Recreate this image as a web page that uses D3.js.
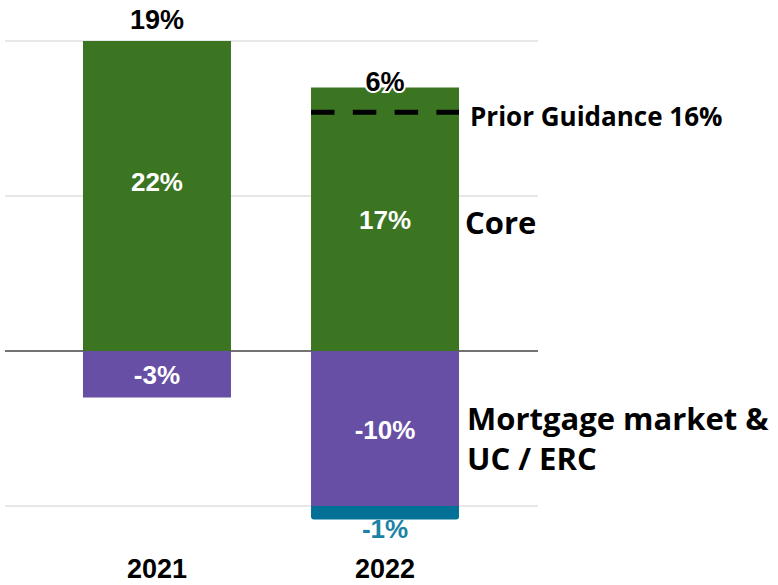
<!DOCTYPE html>
<html>
<head>
<meta charset="utf-8">
<script src="https://cdn.jsdelivr.net/npm/d3@7"></script>
<style>
  body { margin: 0; background: #fff; }
  svg { display: block; }
</style>
</head>
<body>
<svg id="chart"></svg>
<script>
// data
var years = ["2021", "2022"];
var core = [22, 17];
var mortgage = [-3, -10];
var other = [0, -1];
var totals = ["19%", "6%"];
var guidanceLevel = 15.4;
var guidanceLabel = "Prior Guidance 16%";
var gridTicks = [20, 10, 0, -10];

var width = 778, height = 585;

var svg = d3.select("#chart")
  .attr("width", width)
  .attr("height", height);

var x = d3.scaleBand()
  .domain(years)
  .range([5, 537])
  .paddingInner(0.351)
  .paddingOuter(0.342);

// axis top is 20%, taller bars get clipped there
var yMax = 20;
var y = d3.scaleLinear()
  .domain([-12, yMax])
  .range([537, 41])
  .clamp(true);

var green = "#3b7521", purple = "#684fa6", teal = "#037196";

// gridlines
svg.append("g")
  .selectAll("line")
  .data(gridTicks)
  .enter()
  .append("line")
  .attr("x1", 5)
  .attr("x2", 538)
  .attr("y1", function (d) { return y(d); })
  .attr("y2", function (d) { return y(d); })
  .style("stroke", function (d) { return d === 0 ? "#444" : "#d0d0d0"; })
  .style("stroke-width", function (d) { return d === 0 ? 1.5 : 1.2; });

var rows = years.map(function (yr, i) {
  return { year: yr, core: core[i], mortgage: mortgage[i], other: other[i], total: totals[i] };
});

// core bars
svg.append("g")
  .selectAll("rect")
  .data(rows)
  .enter()
  .append("rect")
  .attr("x", function (d) { return x(d.year); })
  .attr("width", x.bandwidth())
  .attr("y", function (d) { return y(d.core); })
  .attr("height", function (d) { return y(0) - y(d.core); })
  .style("fill", green);

// mortgage market bars
svg.append("g")
  .selectAll("rect")
  .data(rows)
  .enter()
  .append("rect")
  .attr("x", function (d) { return x(d.year); })
  .attr("width", x.bandwidth())
  .attr("y", y(0))
  .attr("height", function (d) { return y(d.mortgage) - y(0); })
  .style("fill", purple);

// UC / ERC sliver, rounded at the bottom
svg.append("g")
  .selectAll("path")
  .data(rows.filter(function (d) { return d.other !== 0; }))
  .enter()
  .append("path")
  .attr("d", function (d) {
    var x0 = x(d.year), x1 = x0 + x.bandwidth();
    var y0 = y(d.mortgage), y1 = y(d.mortgage + d.other) - 2, r = 3;
    return "M" + x0 + "," + y0 + "H" + x1 + "V" + (y1 - r) +
      "Q" + x1 + "," + y1 + " " + (x1 - r) + "," + y1 +
      "H" + (x0 + r) + "Q" + x0 + "," + y1 + " " + x0 + "," + (y1 - r) + "Z";
  })
  .style("fill", teal);

// prior guidance dashed line
svg.append("line")
  .attr("x1", x("2022"))
  .attr("x2", x("2022") + x.bandwidth())
  .attr("y1", y(guidanceLevel))
  .attr("y2", y(guidanceLevel))
  .style("stroke", "#000")
  .style("stroke-width", 5)
  .style("stroke-dasharray", "23.5,18.3");

var numFont = "'Liberation Sans', Arial, sans-serif";

// segment labels
var segLabels = [];
rows.forEach(function (d) {
  segLabels.push({ year: d.year, v: d.core, mid: d.core / 2 });
  segLabels.push({ year: d.year, v: d.mortgage, mid: d.mortgage / 2 });
});
svg.append("g")
  .selectAll("text")
  .data(segLabels)
  .enter()
  .append("text")
  .attr("x", function (d) { return x(d.year) + x.bandwidth() / 2; })
  .attr("y", function (d) { return y(d.mid) + 10; })
  .attr("text-anchor", "middle")
  .style("font-family", numFont)
  .style("font-weight", "bold")
  .style("font-size", "26px")
  .style("fill", "#fff")
  .text(function (d) { return d.v + "%"; });

// UC / ERC label below the bar
svg.append("g")
  .selectAll("text")
  .data(rows.filter(function (d) { return d.other !== 0; }))
  .enter()
  .append("text")
  .attr("x", function (d) { return x(d.year) + x.bandwidth() / 2; })
  .attr("y", function (d) { return y(d.mortgage + d.other) + 16; })
  .attr("text-anchor", "middle")
  .style("font-family", numFont)
  .style("font-weight", "bold")
  .style("font-size", "26px")
  .style("fill", "#1a82a6")
  .text(function (d) { return d.other + "%"; });

// totals above the bars
svg.append("g")
  .selectAll("text")
  .data(rows)
  .enter()
  .append("text")
  .attr("x", function (d) { return x(d.year) + x.bandwidth() / 2; })
  .attr("y", function (d) { return d.core > yMax ? y(yMax) - 12 : y(d.core) + 3; })
  .attr("text-anchor", "middle")
  .style("font-family", numFont)
  .style("font-weight", "bold")
  .style("font-size", "27px")
  .style("fill", "#000")
  .style("stroke", "#fff")
  .style("stroke-width", 4)
  .style("paint-order", "stroke")
  .text(function (d) { return d.total; });

// year labels
svg.append("g")
  .selectAll("text")
  .data(years)
  .enter()
  .append("text")
  .attr("x", function (d) { return x(d) + x.bandwidth() / 2; })
  .attr("y", 578)
  .attr("text-anchor", "middle")
  .style("font-family", numFont)
  .style("font-weight", "bold")
  .style("font-size", "27px")
  .style("fill", "#000")
  .text(function (d) { return d; });

// right-hand annotations
var sideFont = "'Open Sans', 'Noto Sans', sans-serif";
var right = x("2022") + x.bandwidth();
svg.append("text")
  .attr("x", right + 11)
  .attr("y", y(guidanceLevel) + 14)
  .style("font-family", sideFont)
  .style("font-weight", "bold")
  .style("font-size", "26px")
  .text(guidanceLabel);

svg.append("text")
  .attr("x", right + 6)
  .attr("y", 234)
  .style("font-family", sideFont)
  .style("font-weight", "bold")
  .style("font-size", "31px")
  .text("Core");

svg.append("text")
  .attr("x", right + 8)
  .attr("y", 430)
  .style("font-family", sideFont)
  .style("font-weight", "bold")
  .style("font-size", "31px")
  .text("Mortgage market &");

svg.append("text")
  .attr("x", right + 8)
  .attr("y", 470)
  .style("font-family", sideFont)
  .style("font-weight", "bold")
  .style("font-size", "31px")
  .text("UC / ERC");
</script>
</body>
</html>
